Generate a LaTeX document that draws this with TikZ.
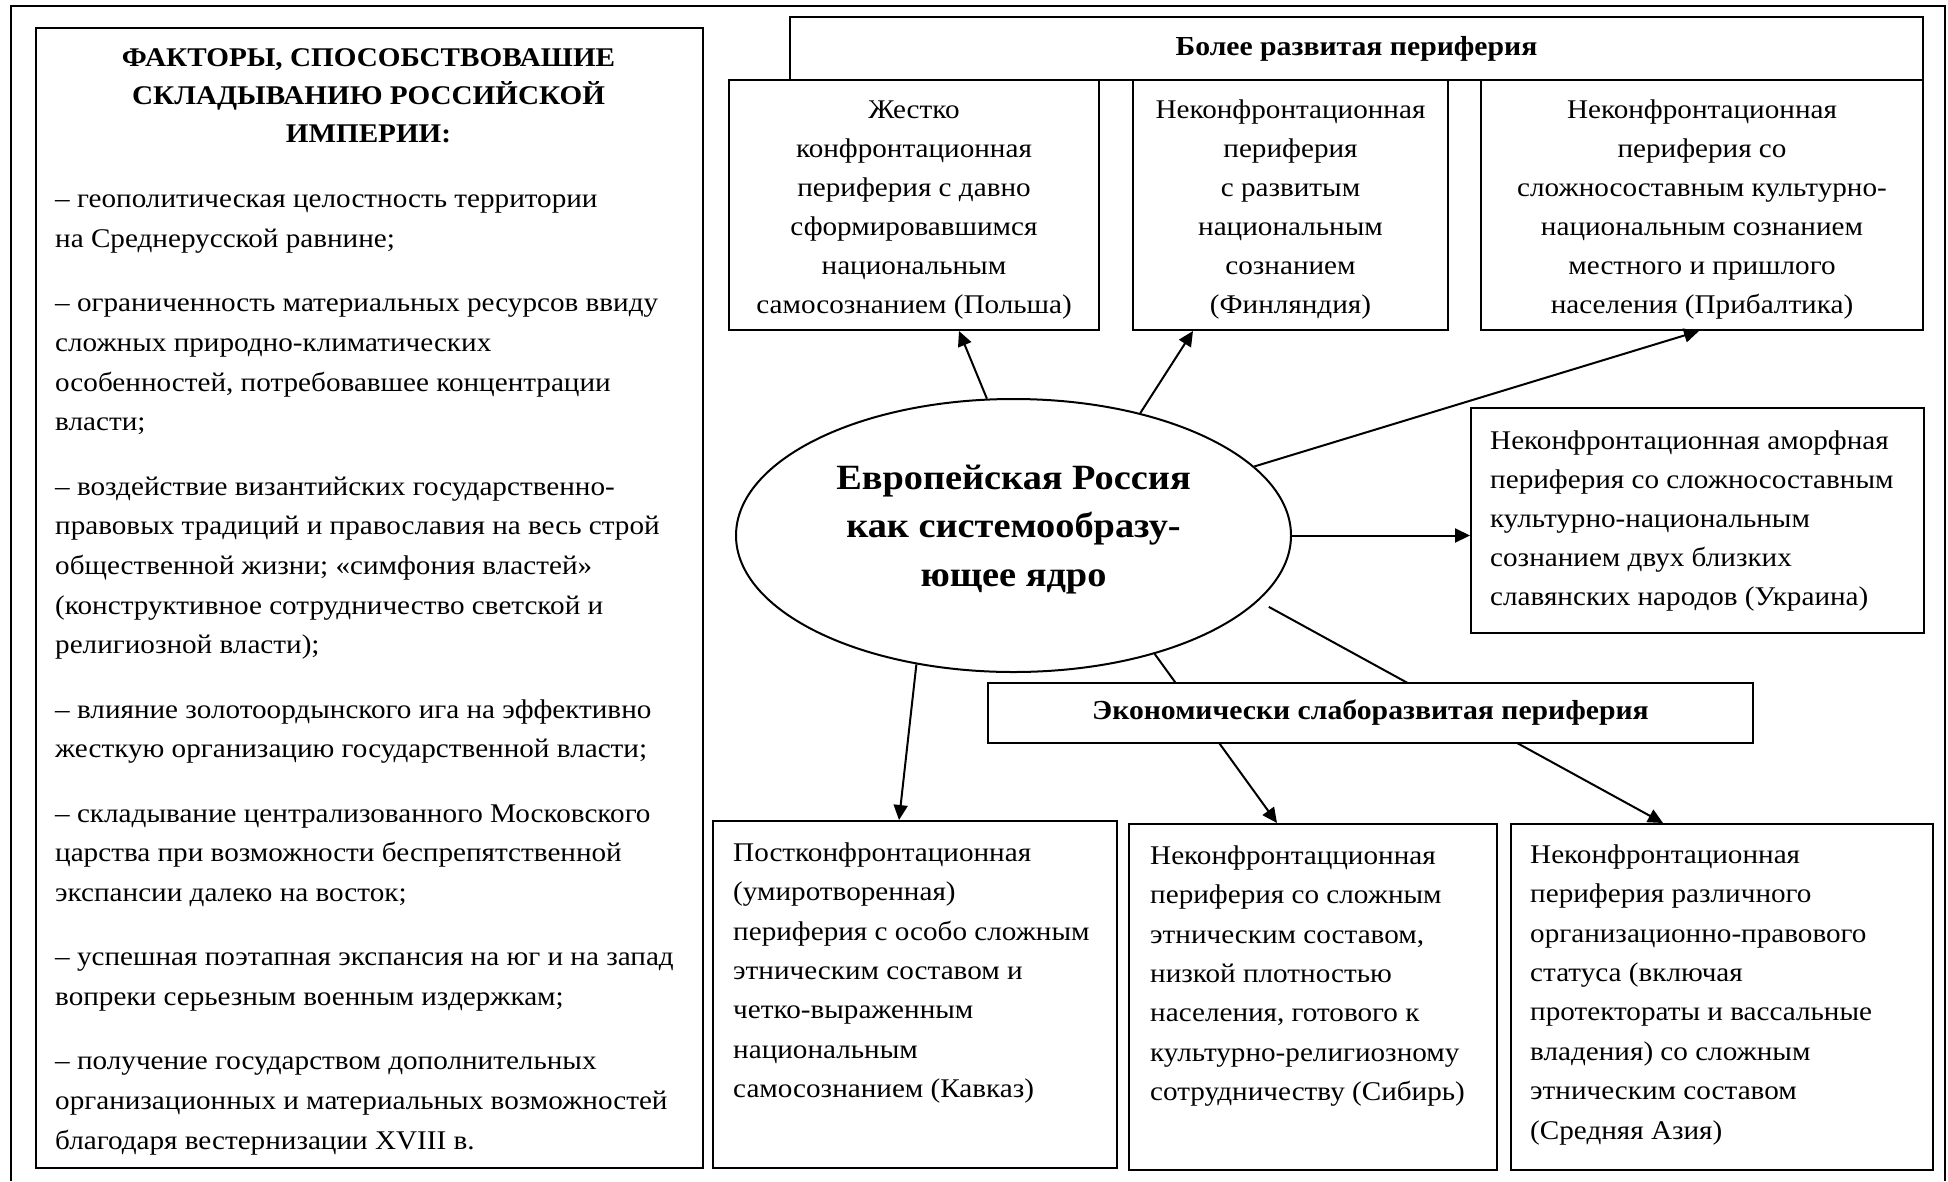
\documentclass[tikz,border=0pt]{standalone}
\usepackage{fontspec}
\setmainfont{Liberation Serif}[FakeStretch=1.08]
\usetikzlibrary{arrows.meta,shapes.geometric,calc}
% struts that fix the height of the first line of a text block
\newcommand{\firstline}{\rule{0pt}{26pt}}
\newcommand{\topline}{\rule{0pt}{28pt}}
\begin{document}
\begin{tikzpicture}[x=1pt,y=-1pt,
  pbox/.style={draw,line width=2pt,fill=white,rectangle,inner sep=0pt,anchor=north west},
  ctext/.style={align=center,font=\fontsize{27}{39}\selectfont},
  ltext/.style={align=left,inner sep=0pt,anchor=north west,font=\fontsize{27}{39.4}\selectfont},
  hdtext/.style={font=\fontsize{27.5}{32}\selectfont\bfseries},
  arr/.style={line width=2pt,-{Triangle[length=15pt,width=14pt]}},
  link/.style={line width=2pt}]
\useasboundingbox (0,0) rectangle (1948,1181);

% outer frame, open at the bottom edge
\draw[line width=2.5pt] (11,1181) -- (11,6) -- (1945,6) -- (1945,1181);

% factors panel
\node[pbox,minimum width=667pt,minimum height=1140pt] (factors) at (35,27) {};
\node[align=center,inner sep=0pt,anchor=north,font=\fontsize{27}{38}\selectfont\bfseries] (ftitle) at (368.5,40.6)
  {\firstline ФАКТОРЫ, СПОСОБСТВОВАШИЕ\\СКЛАДЫВАНИЮ РОССИЙСКОЙ\\ИМПЕРИИ:};
\node[ltext,font=\fontsize{27}{39.7}\selectfont] (flist) at (55,181.5)
  {\firstline – геополитическая целостность территории\\
   на Среднерусской равнине;\\[24.6pt]
   – ограниченность материальных ресурсов ввиду\\
   сложных природно-климатических\\
   особенностей, потребовавшее концентрации\\
   власти;\\[24.6pt]
   – воздействие византийских государственно-\\
   правовых традиций и православия на весь строй\\
   общественной жизни; «симфония властей»\\
   (конструктивное сотрудничество светской и\\
   религиозной власти);\\[24.6pt]
   – влияние золотоордынского ига на эффективно\\
   жесткую организацию государственной власти;\\[24.6pt]
   – складывание централизованного Московского\\
   царства при возможности беспрепятственной\\
   экспансии далеко на восток;\\[24.6pt]
   – успешная поэтапная экспансия на юг и на запад\\
   вопреки серьезным военным издержкам;\\[24.6pt]
   – получение государством дополнительных\\
   организационных и материальных возможностей\\
   благодаря вестернизации XVIII в.};

% developed periphery
\node[pbox,minimum width=1133pt,minimum height=63pt,hdtext] (head) at (789,16) {Более развитая периферия};
\node[pbox,minimum width=370pt,minimum height=250pt,ctext] (boxA) at (728,79)
  {\topline Жестко\\конфронтационная\\периферия с давно\\сформировавшимся\\национальным\\самосознанием (Польша)};
\node[pbox,minimum width=315pt,minimum height=250pt,ctext] (boxB) at (1132,79)
  {\topline Неконфронтационная\\периферия\\с развитым\\национальным\\сознанием\\(Финляндия)};
\node[pbox,minimum width=442pt,minimum height=250pt,ctext] (boxC) at (1480,79)
  {\topline Неконфронтационная\\периферия со\\сложносоставным культурно-\\национальным сознанием\\местного и пришлого\\населения (Прибалтика)};

% core
\node[draw,ellipse,line width=2pt,minimum width=555pt,minimum height=273pt,inner sep=0pt,
      align=center,font=\fontsize{35.5}{48.5}\selectfont\bfseries] (core) at (1013.5,535.5)
  {Европейская Россия\\как системообразу-\\ющее ядро\rule[-19.7pt]{0pt}{0pt}};

% Ukraine
\node[pbox,minimum width=453pt,minimum height=225pt] (boxD) at (1470,407) {};
\node[ltext,anchor=west,font=\fontsize{27}{39}\selectfont] (textD) at ([xshift=20pt]boxD.west)
  {Неконфронтационная аморфная\\периферия со сложносоставным\\культурно-национальным\\сознанием двух близких\\славянских народов (Украина)};

% less developed periphery
\node[pbox,minimum width=404pt,minimum height=347pt] (boxE) at (712,820) {};
\node[ltext] (textE) at ([shift={(21pt,-15pt)}]boxE.north west)
  {\firstline Постконфронтационная\\(умиротворенная)\\периферия с особо сложным\\этническим составом и\\четко-выраженным\\национальным\\самосознанием (Кавказ)};
\node[pbox,minimum width=368pt,minimum height=346pt] (boxF) at (1128,823) {};
\node[ltext] (textF) at ([shift={(22pt,-15pt)}]boxF.north west)
  {\firstline Неконфронтацционная\\периферия со сложным\\этническим составом,\\низкой плотностью\\населения, готового к\\культурно-религиозному\\сотрудничеству (Сибирь)};
\node[pbox,minimum width=422pt,minimum height=346pt] (boxG) at (1510,823) {};
\node[ltext] (textG) at ([shift={(20pt,-14pt)}]boxG.north west)
  {\firstline Неконфронтационная\\периферия различного\\организационно-правового\\статуса (включая\\протектораты и вассальные\\владения) со сложным\\этническим составом\\(Средняя Азия)};

% connectors
\draw[arr] (core.101) -- ([xshift=231pt]boxA.south west);
\draw[arr] (core.44) -- ([xshift=61pt]boxB.south west);
\draw[arr] (core.16) -- ([xshift=219pt]boxC.south west);
\draw[arr] (core.east) -- (core.east -| boxD.west);
\draw[arr] (core.233) -- ([xshift=187pt]boxE.north west);
\draw[arr] (core.320) -- ([xshift=149pt]boxF.north west);
\draw[arr,shorten <=12pt] (core.345) -- ([xshift=153pt]boxG.north west);

% label box laid over the two lower connectors
\node[pbox,minimum width=765pt,minimum height=60pt,hdtext] (eco) at (987,682) {Экономически слаборазвитая периферия};
\end{tikzpicture}
\end{document}
